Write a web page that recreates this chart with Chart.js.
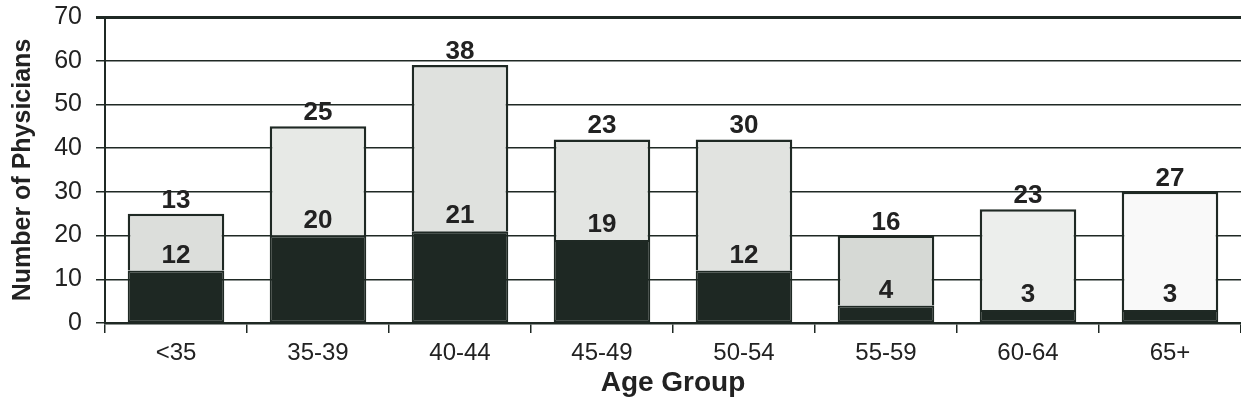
<!DOCTYPE html>
<html>
<head>
<meta charset="utf-8">
<script src="https://cdn.jsdelivr.net/npm/chart.js@4/dist/chart.umd.min.js"></script>
<style>
  html, body { margin: 0; padding: 0; background: #fff; }
  canvas { display: block; }
</style>
</head>
<body>
<canvas id="chart" width="1241" height="420"></canvas>
<script>
// data
const ageGroups = ['<35', '35-39', '40-44', '45-49', '50-54', '55-59', '60-64', '65+'];
const lowerValues = [12, 20, 21, 19, 12, 4, 3, 3];
const upperValues = [13, 25, 38, 23, 30, 16, 23, 27];
const yTicks = [0, 10, 20, 30, 40, 50, 60, 70];

const ink = '#1f2924';
const darkFill = '#1e2823';
const lightFills = ['#dcdedb', '#e7e9e6', '#dfe1de', '#e3e5e2', '#e1e3e0', '#d6d9d5', '#eceeec', '#f9f9f9'];

// value labels: upper value above the bar, lower value just above the dark part
const valueLabels = {
    id: 'valueLabels',
    afterDatasetsDraw(chart) {
        const ctx = chart.ctx;
        const lower = chart.getDatasetMeta(0);
        const upper = chart.getDatasetMeta(1);
        ctx.save();
        ctx.fillStyle = '#222';
        ctx.font = 'bold 26px "Liberation Sans", Arial, sans-serif';
        ctx.textAlign = 'center';
        ctx.textBaseline = 'alphabetic';
        upper.data.forEach((bar, i) => {
            ctx.fillText(String(upperValues[i]), bar.x, bar.y - 6);
        });
        lower.data.forEach((bar, i) => {
            ctx.fillText(String(lowerValues[i]), bar.x, bar.y - 8);
        });
        ctx.restore();
    }
};

new Chart(document.getElementById('chart'), {
    type: 'bar',
    data: {
        labels: ageGroups,
        datasets: [
            {
                label: 'lower',
                data: lowerValues,
                backgroundColor: darkFill,
                borderColor: ink,
                borderWidth: 2,
                borderSkipped: false,
                barPercentage: 0.68,
                categoryPercentage: 1
            },
            {
                label: 'upper',
                data: upperValues,
                backgroundColor: lightFills,
                borderColor: ink,
                borderWidth: 2.5,
                borderSkipped: 'bottom',
                barPercentage: 0.68,
                categoryPercentage: 1
            }
        ]
    },
    options: {
        responsive: false,
        animation: false,
        layout: { padding: { top: 17, right: 0, left: 0, bottom: 0 } },
        plugins: {
            legend: { display: false },
            tooltip: { enabled: false }
        },
        scales: {
            x: {
                stacked: true,
                afterFit: scale => {
                    scale.height = 97;
                    scale.paddingLeft = 0;
                    scale.paddingRight = 0;
                },
                grid: {
                    offset: true,
                    drawOnChartArea: false,
                    color: ink,
                    lineWidth: 1.5,
                    tickLength: 10
                },
                border: { color: ink, width: 2.5 },
                ticks: {
                    color: '#222',
                    padding: 6,
                    font: { family: '"Liberation Sans", Arial, sans-serif', size: 24 }
                },
                title: {
                    display: true,
                    text: 'Age Group',
                    color: '#222',
                    padding: { top: 0, bottom: 20 },
                    font: { family: '"Liberation Sans", Arial, sans-serif', size: 28, weight: 'bold' }
                }
            },
            y: {
                stacked: true,
                min: 0,
                max: 70,
                afterFit: scale => {
                    scale.width = 105;
                    scale.paddingTop = 0;
                    scale.paddingBottom = 0;
                },
                afterBuildTicks: scale => { scale.ticks = yTicks.map(v => ({ value: v })); },
                grid: {
                    color: ink,
                    lineWidth: c => (c.tick && c.tick.value === 70 ? 3 : 1.5),
                    tickLength: 9
                },
                border: { color: ink, width: 2 },
                ticks: {
                    color: '#222',
                    padding: 14,
                    font: { family: '"Liberation Sans", Arial, sans-serif', size: 25 }
                },
                title: {
                    display: true,
                    text: 'Number of Physicians',
                    color: '#222',
                    padding: { top: 8, bottom: 0 },
                    font: { family: '"Liberation Sans", Arial, sans-serif', size: 25, weight: 'bold' }
                }
            }
        }
    },
    plugins: [valueLabels]
});
</script>
</body>
</html>
